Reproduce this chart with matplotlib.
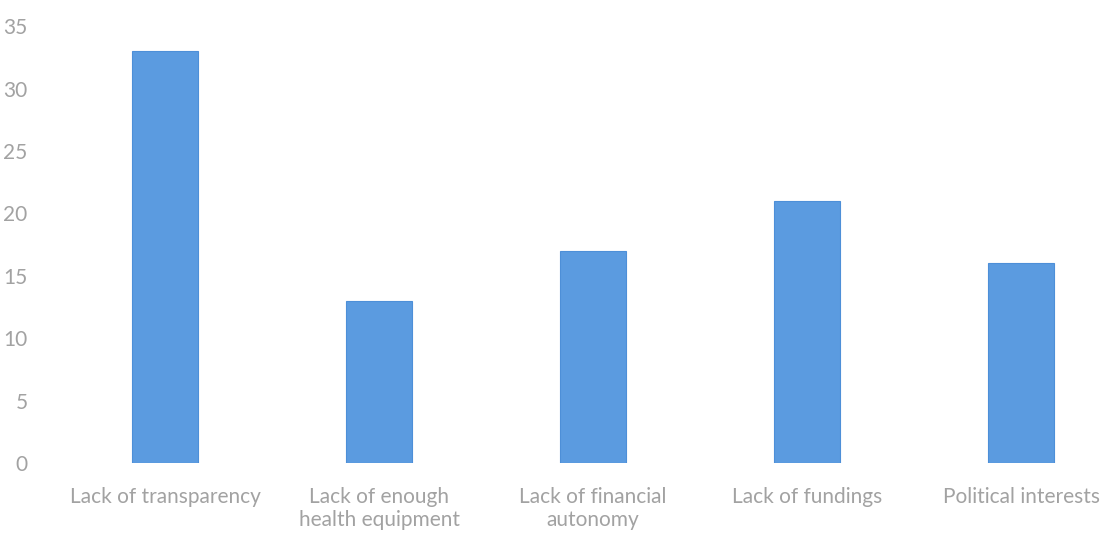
import numpy as np
import matplotlib.pyplot as plt

# Reasons (survey counts)
categories = ['Lack of transparency', 'Lack of enough\nhealth equipment',
              'Lack of financial\nautonomy', 'Lack of fundings', 'Political interests']
counts = [33, 13, 17, 21, 16]
yticks = [0, 5, 10, 15, 20, 25, 30, 35]

plt.rcParams['font.family'] = ['Lato', 'DejaVu Sans']

fig = plt.figure(figsize=(11.07, 5.36), dpi=100)
ax = fig.add_axes([0.0524, 0.136, 0.9666, 0.815])

x = np.arange(len(categories))
ax.bar(x, counts, width=0.31, color='#5b9be0', edgecolor='#4d8fd8', linewidth=0.8)

ax.set_xlim(-0.5, 4.5)
ax.set_ylim(0, 35)
ax.set_yticks(yticks)
ax.set_xticks(x)
ax.set_xticklabels(categories, linespacing=1.2)

for s in ax.spines.values():
    s.set_visible(False)
ax.tick_params(axis='both', length=0, labelsize=15, colors='#a2a2a2')
ax.tick_params(axis='y', pad=22)
ax.tick_params(axis='x', pad=17)

fig.savefig('out.png', dpi=100, facecolor='white')
